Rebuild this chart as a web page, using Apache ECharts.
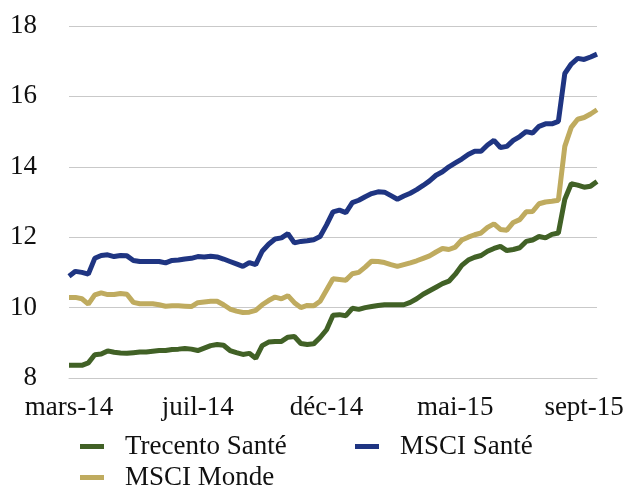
<!DOCTYPE html>
<html>
<head>
<meta charset="utf-8">
<script src="https://cdn.jsdelivr.net/npm/echarts@6/dist/echarts.min.js"></script>
<style>
  html, body { margin: 0; padding: 0; background: #fff; }
  #chart { width: 630px; height: 488px; }
</style>
</head>
<body>
<div id="chart"></div>
<script>
// weekly points, first one early March 2014
var startDate = new Date(2014, 2, 7);
var pointCount = 83;

// x-axis labels and the point they sit on
var tickLabels = ['mars-14', 'juil-14', 'déc-14', 'mai-15', 'sept-15'];
var tickIndex = [0, 20, 40, 60, 80];

// y ticks
var yMin = 8, yMax = 18, yStep = 2;

var trecentoSante = [
    8.36, 8.36, 8.36, 8.43, 8.66, 8.68, 8.77, 8.73, 8.71, 8.70,
    8.72, 8.74, 8.74, 8.76, 8.78, 8.78, 8.81, 8.82, 8.84, 8.82,
    8.78, 8.85, 8.92, 8.95, 8.93, 8.78, 8.72, 8.67, 8.70, 8.56,
    8.92, 9.02, 9.04, 9.04, 9.16, 9.18, 8.98, 8.95, 8.97, 9.15,
    9.37, 9.78, 9.80, 9.77, 9.98, 9.95, 10.00, 10.03, 10.06, 10.08,
    10.08, 10.08, 10.08, 10.15, 10.25, 10.38, 10.48, 10.58, 10.68, 10.75,
    10.95, 11.20, 11.35, 11.43, 11.48, 11.60, 11.68, 11.74, 11.62, 11.65,
    11.70, 11.88, 11.92, 12.02, 11.98, 12.08, 12.12, 13.08, 13.52, 13.48,
    13.42, 13.45, 13.58
];

var msciSante = [
    10.89, 11.03, 11.00, 10.95, 11.40, 11.48, 11.50, 11.45, 11.48, 11.47,
    11.34, 11.31, 11.31, 11.31, 11.31, 11.27, 11.34, 11.35, 11.38, 11.40,
    11.45, 11.44, 11.46, 11.44, 11.38, 11.31, 11.24, 11.17, 11.28, 11.22,
    11.60, 11.80, 11.95, 11.98, 12.10, 11.84, 11.88, 11.90, 11.93, 12.02,
    12.35, 12.72, 12.77, 12.70, 12.98, 13.05, 13.15, 13.24, 13.29, 13.28,
    13.18, 13.08, 13.17, 13.25, 13.35, 13.47, 13.60, 13.76, 13.86, 14.00,
    14.11, 14.22, 14.35, 14.44, 14.44, 14.62, 14.75, 14.55, 14.58, 14.75,
    14.86, 15.00, 14.96, 15.15, 15.22, 15.22, 15.29, 16.65, 16.92, 17.08,
    17.05, 17.12, 17.20
];

var msciMonde = [
    10.29, 10.29, 10.25, 10.10, 10.36, 10.42, 10.37, 10.37, 10.40, 10.38,
    10.15, 10.11, 10.11, 10.11, 10.08, 10.04, 10.05, 10.05, 10.04, 10.03,
    10.14, 10.16, 10.18, 10.18, 10.08, 9.96, 9.90, 9.86, 9.87, 9.92,
    10.08, 10.20, 10.30, 10.25, 10.34, 10.14, 10.00, 10.06, 10.05, 10.18,
    10.50, 10.82, 10.80, 10.78, 10.96, 11.00, 11.15, 11.32, 11.31, 11.28,
    11.22, 11.17, 11.22, 11.27, 11.33, 11.40, 11.47, 11.58, 11.68, 11.65,
    11.72, 11.92, 12.00, 12.07, 12.12, 12.28, 12.38, 12.22, 12.20, 12.42,
    12.50, 12.72, 12.73, 12.95, 13.00, 13.02, 13.05, 14.58, 15.12, 15.35,
    15.40, 15.50, 15.62
];

var categories = [];
for (var i = 0; i < pointCount; i++) {
    var d = new Date(startDate.getTime() + i * 7 * 86400000);
    categories.push(d.getFullYear() + '-' + (d.getMonth() + 1) + '-' + d.getDate());
}

var serif = '"Liberation Serif", "DejaVu Serif", serif';
var gridGray = '#c9c9c9';

function legendAt(name, left, top) {
    return {
        data: [name],
        left: left, top: top,
        icon: 'rect', itemWidth: 24, itemHeight: 5,
        textStyle: { fontFamily: serif, fontSize: 27, color: '#111', padding: [0, 0, 0, 16] }
    };
}

var myChart = echarts.init(document.getElementById('chart'));

var option = {
    animation: false,
    textStyle: { fontFamily: serif },
    grid: {
        left: 69,
        right: 33,
        top: 26,
        bottom: 110
    },
    // one legend per item so each can sit where it is in the picture
    legend: [
        legendAt('Trecento Santé', 75, 428),
        legendAt('MSCI Santé', 350, 428),
        legendAt('MSCI Monde', 75, 459)
    ],
    xAxis: {
        type: 'category',
        boundaryGap: false,
        data: categories,
        axisLine: { show: true, lineStyle: { color: gridGray, width: 1 } },
        axisTick: { show: false },
        axisLabel: {
            interval: function (index) {
                return tickIndex.indexOf(index) !== -1;
            },
            formatter: function (value, index) {
                var k = tickIndex.indexOf(index);
                return k === -1 ? '' : tickLabels[k];
            },
            margin: 16,
            fontFamily: serif,
            fontSize: 27,
            color: '#111'
        },
        splitLine: { show: false }
    },
    yAxis: {
        type: 'value',
        min: yMin,
        max: yMax,
        interval: yStep,
        axisLine: { show: false },
        axisTick: { show: false },
        axisLabel: {
            margin: 32,
            fontFamily: serif,
            fontSize: 27,
            color: '#111'
        },
        splitLine: { lineStyle: { color: gridGray, width: 1 } }
    },
    series: [
        {
            name: 'Trecento Santé',
            type: 'line',
            data: trecentoSante,
            showSymbol: false,
            z: 3,
            color: '#416126',
            lineStyle: { width: 5, color: '#416126' }
        },
        {
            name: 'MSCI Santé',
            type: 'line',
            data: msciSante,
            showSymbol: false,
            z: 3,
            color: '#1f3582',
            lineStyle: { width: 5, color: '#1f3582' }
        },
        {
            name: 'MSCI Monde',
            type: 'line',
            data: msciMonde,
            showSymbol: false,
            z: 2,
            color: '#bfab5f',
            lineStyle: { width: 5, color: '#bfab5f' }
        }
    ]
};

myChart.setOption(option);
</script>
</body>
</html>
